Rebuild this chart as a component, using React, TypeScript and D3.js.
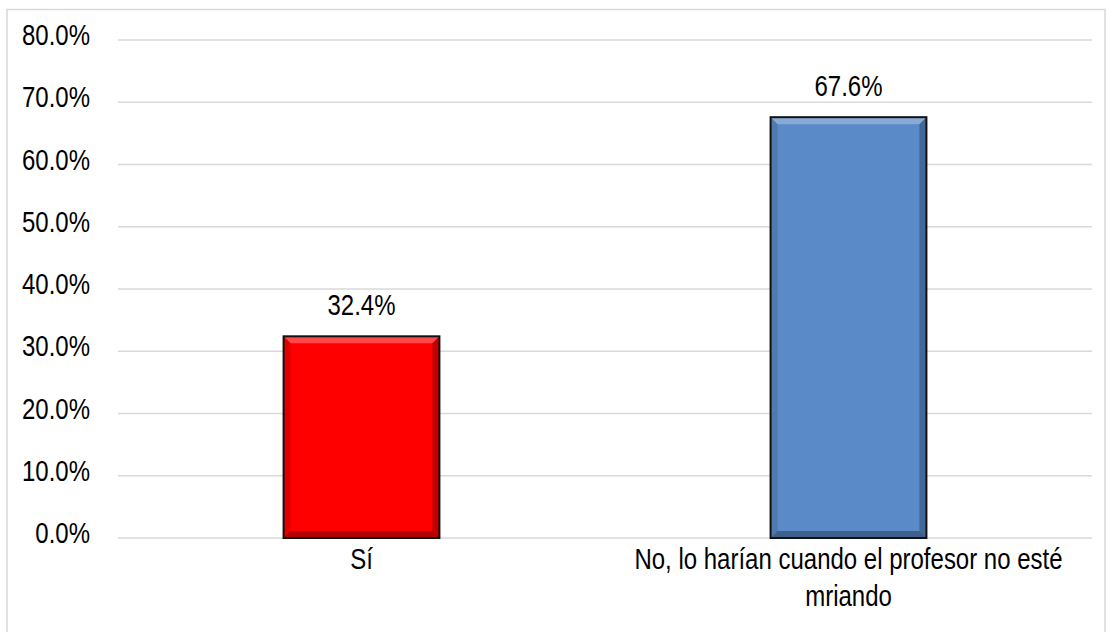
import React from "react";
import * as d3 from "d3";

const categories = ["Sí", "No, lo harían cuando el profesor no esté mriando"];
const categoryLines = [["Sí"], ["No, lo harían cuando el profesor no esté", "mriando"]];
const values = [32.4, 67.6];
const barColors = ["#FF0000", "#5A8AC8"];
const yTicks = [0, 10, 20, 30, 40, 50, 60, 70, 80];

const W = 1107;
const H = 632;
const plot = { left: 118, right: 1092, top: 40, bottom: 538 };
const FONT = "'Liberation Sans', Arial, sans-serif";
const SY = 1.2;

export default function App() {
  const x = d3
    .scaleBand<string>()
    .domain(categories)
    .range([plot.left, plot.right])
    .paddingInner(0.68)
    .paddingOuter(0.34);
  const y = d3.scaleLinear().domain([0, 80]).range([plot.bottom, plot.top]);
  const fmt = (v: number) => d3.format(".1f")(v) + "%";
  const bw = x.bandwidth();
  const b = 7;

  const txt = (
    key: string,
    tx: number,
    ty: number,
    s: string,
    anchor: "start" | "middle" | "end"
  ) => (
    <text
      key={key}
      transform={`translate(${tx},${ty}) scale(1,${SY})`}
      textAnchor={anchor}
      fontFamily={FONT}
      fontSize={24}
      fill="#000"
    >
      {s}
    </text>
  );

  return (
    <svg
      width={W}
      height={H}
      style={{ position: "absolute", left: 0, top: 0, background: "#fff" }}
    >
      <rect x={7} y={9.5} width={1098} height={640} fill="#fff" stroke="#d9d9d9" strokeWidth={1.5} />
      {yTicks.map((t) => (
        <line
          key={"g" + t}
          x1={plot.left}
          x2={plot.right}
          y1={y(t)}
          y2={y(t)}
          stroke="#d9d9d9"
          strokeWidth={1.5}
        />
      ))}
      {yTicks.map((t) => txt("t" + t, 90, y(t) + 5, fmt(t), "end"))}
      {categories.map((c, i) => {
        const x0 = x(c)!;
        const y0 = y(values[i]);
        const h = y(0) - y0;
        const x1 = x0 + bw;
        const y1 = y0 + h;
        const pts = (p: number[][]) => p.map((q) => q.join(",")).join(" ");
        return (
          <g key={"b" + i}>
            <rect x={x0} y={y0} width={bw} height={h} fill={barColors[i]} />
            <polygon
              points={pts([[x0, y0], [x1, y0], [x1 - b, y0 + b], [x0 + b, y0 + b]])}
              fill="#fff"
              opacity={0.28}
            />
            <polygon
              points={pts([[x0, y1], [x1, y1], [x1 - b, y1 - b], [x0 + b, y1 - b]])}
              fill="#000"
              opacity={0.3}
            />
            <polygon
              points={pts([[x0, y0], [x0 + b, y0 + b], [x0 + b, y1 - b], [x0, y1]])}
              fill="#000"
              opacity={0.12}
            />
            <polygon
              points={pts([[x1, y0], [x1 - b, y0 + b], [x1 - b, y1 - b], [x1, y1]])}
              fill="#000"
              opacity={0.25}
            />
            <rect x={x0} y={y0} width={bw} height={h} fill="none" stroke="#111" strokeWidth={2} />
            {txt("v" + i, x0 + bw / 2, y0 - 21, fmt(values[i]), "middle")}
            {categoryLines[i].map((ln, j) =>
              txt("c" + i + j, x0 + bw / 2, plot.bottom + 31 + j * 37, ln, "middle")
            )}
          </g>
        );
      })}
    </svg>
  );
}
